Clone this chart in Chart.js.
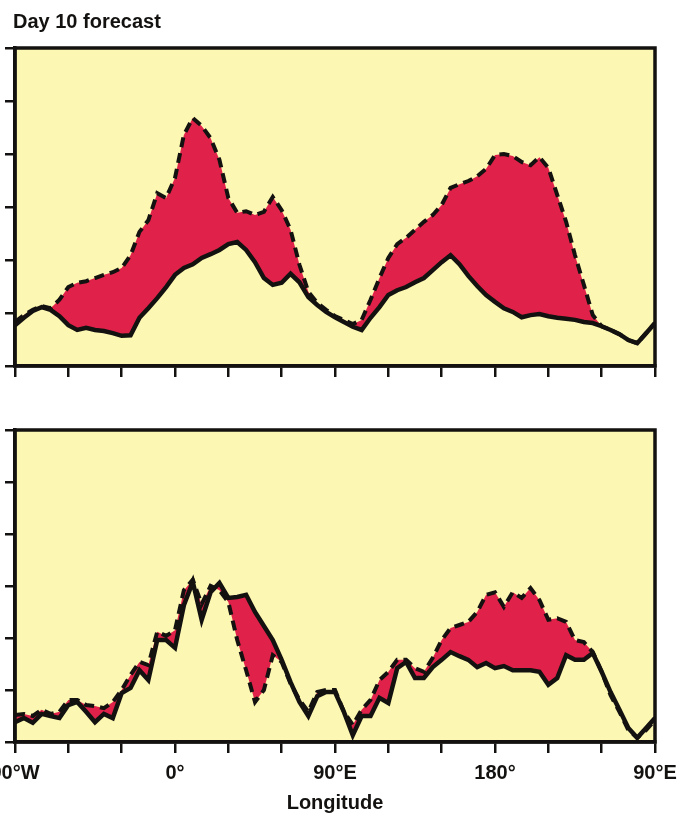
<!DOCTYPE html>
<html>
<head>
<meta charset="utf-8">
<script src="https://cdn.jsdelivr.net/npm/chart.js@4.4.1/dist/chart.umd.min.js"></script>
<style>
  html, body { margin: 0; padding: 0; background: #fff; }
  body { width: 696px; height: 822px; position: relative; overflow: hidden; }
  canvas { position: absolute; left: 0; }
  #topChart { top: 0; }
  #bottomChart { top: 400px; }
</style>
</head>
<body>
<canvas id="topChart" width="696" height="380"></canvas>
<canvas id="bottomChart" width="696" height="422"></canvas>
<script>
// longitude, degrees east (90W .. 270E)
const lon = [-90, -85, -80, -75, -70, -65, -60, -55, -50, -45, -40, -35, -30, -25, -20, -15, -10, -5,
  0, 5, 10, 15, 20, 25, 30, 35, 40, 45, 50, 55, 60, 65, 70, 75, 80, 85,
  90, 95, 100, 105, 110, 115, 120, 125, 130, 135, 140, 145, 150, 155, 160, 165, 170, 175,
  180, 185, 190, 195, 200, 205, 210, 215, 220, 225, 230, 235, 240, 245, 250, 255, 260, 265, 270];

// top panel (Day 10 forecast)
const topSolid = [0.77, 0.91, 1.04, 1.11, 1.06, 0.94, 0.77, 0.68, 0.72, 0.68,
  0.66, 0.62, 0.57, 0.58, 0.91, 1.09, 1.28, 1.49, 1.72, 1.85,
  1.92, 2.04, 2.11, 2.19, 2.30, 2.34, 2.19, 1.96, 1.66, 1.53,
  1.57, 1.74, 1.58, 1.30, 1.15, 1.02, 0.92, 0.83, 0.74, 0.68,
  0.91, 1.11, 1.34, 1.43, 1.49, 1.58, 1.66, 1.81, 1.96, 2.09,
  1.92, 1.70, 1.51, 1.34, 1.21, 1.09, 1.02, 0.92, 0.96, 0.98,
  0.94, 0.91, 0.89, 0.87, 0.83, 0.81, 0.75, 0.68, 0.60, 0.49,
  0.43, 0.62, 0.81];
const topDashed = [0.83, 0.96, 1.06, 1.13, 1.09, 1.25, 1.49, 1.57, 1.60, 1.66,
  1.72, 1.77, 1.85, 2.09, 2.53, 2.75, 3.26, 3.17, 3.55, 4.36,
  4.68, 4.53, 4.30, 3.89, 3.17, 2.89, 2.92, 2.85, 2.91, 3.19,
  2.94, 2.57, 1.91, 1.40, 1.19, 1.06, 0.94, 0.87, 0.79, 0.87,
  1.25, 1.66, 2.04, 2.30, 2.42, 2.57, 2.72, 2.85, 3.04, 3.36,
  3.43, 3.49, 3.58, 3.72, 3.98, 4.00, 3.96, 3.85, 3.79, 3.94,
  3.74, 3.23, 2.72, 2.09, 1.53, 0.96, 0.75, 0.68, 0.60, 0.49,
  0.43, 0.62, 0.81];

// bottom panel
const bottomSolid = [0.38, 0.46, 0.37, 0.54, 0.50, 0.46, 0.71, 0.77, 0.58, 0.38,
  0.54, 0.46, 0.94, 1.04, 1.38, 1.19, 1.96, 1.96, 1.81, 2.63,
  3.08, 2.35, 2.88, 3.06, 2.77, 2.79, 2.83, 2.50, 2.23, 1.96,
  1.58, 1.15, 0.77, 0.50, 0.88, 0.96, 0.96, 0.58, 0.13, 0.50,
  0.50, 0.85, 0.75, 1.42, 1.54, 1.23, 1.23, 1.44, 1.58, 1.73,
  1.65, 1.58, 1.44, 1.52, 1.42, 1.46, 1.38, 1.38, 1.38, 1.35,
  1.10, 1.23, 1.67, 1.58, 1.58, 1.71, 1.35, 0.96, 0.62, 0.27,
  0.08, 0.27, 0.46];
const bottomDashed = [0.52, 0.54, 0.50, 0.62, 0.54, 0.58, 0.81, 0.81, 0.71, 0.69,
  0.65, 0.77, 1.00, 1.29, 1.54, 1.48, 2.12, 2.04, 2.15, 2.92,
  3.12, 2.65, 3.00, 2.92, 2.69, 1.96, 1.38, 0.77, 1.00, 1.67,
  1.54, 1.12, 0.81, 0.58, 0.96, 1.00, 1.00, 0.58, 0.33, 0.62,
  0.81, 1.19, 1.35, 1.58, 1.58, 1.42, 1.35, 1.62, 1.96, 2.19,
  2.25, 2.31, 2.50, 2.83, 2.88, 2.60, 2.88, 2.77, 2.96, 2.73,
  2.35, 2.38, 2.31, 1.96, 1.92, 1.73, 1.35, 0.90, 0.58, 0.23,
  0.08, 0.23, 0.42];

const xTickValues = [-90, 0, 90, 180, 270];
const xTickLabels = ['90°W', '0°', '90°E', '180°', '90°E'];

const font = "'Liberation Sans', Arial, Helvetica, sans-serif";
const ink = '#141210';
const paper = '#fcf7b2';
const red = '#e0224a';

// yellow plot area and black frame
const frame = {
  id: 'frame',
  beforeDraw(chart) {
    const a = chart.chartArea, ctx = chart.ctx;
    ctx.save();
    ctx.fillStyle = paper;
    ctx.fillRect(a.left, a.top, a.right - a.left, a.bottom - a.top);
    ctx.restore();
  },
  afterDraw(chart) {
    const a = chart.chartArea, ctx = chart.ctx;
    ctx.save();
    ctx.strokeStyle = ink;
    ctx.lineWidth = 3.5;
    ctx.strokeRect(a.left, a.top, a.right - a.left, a.bottom - a.top);
    ctx.restore();
  }
};

function pts(ys) {
  return lon.map((x, i) => ({x: x, y: ys[i]}));
}

function makePanel(id, solid, dashed, isBottom) {
  const ctx = document.getElementById(id);
  return new Chart(ctx, {
    type: 'line',
    data: {
      datasets: [
        {
          data: pts(solid),
          borderColor: ink,
          borderWidth: 4.5,
          pointRadius: 0,
          tension: 0,
          fill: false
        },
        {
          data: pts(dashed),
          borderColor: ink,
          borderWidth: 4,
          borderDash: [10, 6],
          pointRadius: 0,
          tension: 0,
          fill: {target: 0},
          backgroundColor: red
        }
      ]
    },
    options: {
      responsive: false,
      animation: false,
      devicePixelRatio: 1,
      layout: {
        autoPadding: false,
        padding: {left: 13, right: 41, top: isBottom ? 30 : 0, bottom: 0}
      },
      plugins: {
        legend: {display: false},
        tooltip: {enabled: false},
        title: {
          display: !isBottom,
          text: 'Day 10 forecast',
          align: 'start',
          color: ink,
          font: {family: font, size: 20, weight: 'bold'},
          padding: {top: 10, bottom: 14}
        }
      },
      scales: {
        x: {
          type: 'linear',
          min: -90,
          max: 270,
          afterFit: s => {
            s.height = isBottom ? 80 : 14;
            s.paddingLeft = 0;
            s.paddingRight = 0;
          },
          afterBuildTicks: s => {
            s.ticks = [-90, -60, -30, 0, 30, 60, 90, 120, 150, 180, 210, 240, 270].map(v => ({value: v}));
          },
          border: {display: true, color: ink, width: 3.5},
          grid: {drawOnChartArea: false, drawTicks: true, tickLength: 11, color: ink, lineWidth: 2.5},
          ticks: {
            display: isBottom,
            maxRotation: 0,
            autoSkip: false,
            padding: 8,
            color: ink,
            font: {family: font, size: 20, weight: 'bold'},
            callback: v => {
              const k = xTickValues.indexOf(v);
              return k < 0 ? '' : xTickLabels[k];
            }
          },
          title: {
            display: isBottom,
            text: 'Longitude',
            color: ink,
            font: {family: font, size: 20, weight: 'bold'},
            padding: {top: 0, bottom: 7}
          }
        },
        y: {
          min: 0,
          max: 6,
          afterFit: s => { s.width = 2; },
          border: {display: true, color: ink, width: 3.5},
          grid: {drawOnChartArea: false, drawTicks: true, tickLength: 10, color: ink, lineWidth: 2.5},
          ticks: {display: false, stepSize: 1}
        }
      }
    },
    plugins: [frame]
  });
}

makePanel('topChart', topSolid, topDashed, false);
makePanel('bottomChart', bottomSolid, bottomDashed, true);
</script>
</body>
</html>
